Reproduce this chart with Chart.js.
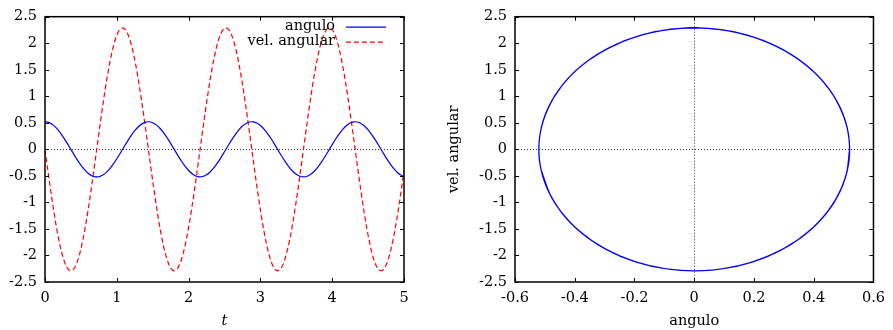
<!DOCTYPE html>
<html>
<head>
<meta charset="utf-8">
<script src="https://cdn.jsdelivr.net/npm/chart.js@4.4.1/dist/chart.umd.min.js"></script>
<style>
  body { margin: 0; background: #fff; width: 893px; height: 330px; overflow: hidden; }
  .panel { position: absolute; top: 0; height: 330px; }
  #p1 { left: 0; width: 446px; }
  #p2 { left: 446px; width: 447px; }
</style>
</head>
<body>
<div class="panel" id="p1"><canvas id="graficaTiempo"></canvas></div>
<div class="panel" id="p2"><canvas id="graficaFase"></canvas></div>

<script>
/* Datos (paso de 0.05 en t) */
const tiempo = [
  0, 0.05, 0.1, 0.15, 0.2, 0.25, 0.3, 0.35, 0.4, 0.45,
  0.5, 0.55, 0.6, 0.65, 0.7, 0.75, 0.8, 0.85, 0.9, 0.95,
  1, 1.05, 1.1, 1.15, 1.2, 1.25, 1.3, 1.35, 1.4, 1.45,
  1.5, 1.55, 1.6, 1.65, 1.7, 1.75, 1.8, 1.85, 1.9, 1.95,
  2, 2.05, 2.1, 2.15, 2.2, 2.25, 2.3, 2.35, 2.4, 2.45,
  2.5, 2.55, 2.6, 2.65, 2.7, 2.75, 2.8, 2.85, 2.9, 2.95,
  3, 3.05, 3.1, 3.15, 3.2, 3.25, 3.3, 3.35, 3.4, 3.45,
  3.5, 3.55, 3.6, 3.65, 3.7, 3.75, 3.8, 3.85, 3.9, 3.95,
  4, 4.05, 4.1, 4.15, 4.2, 4.25, 4.3, 4.35, 4.4, 4.45,
  4.5, 4.55, 4.6, 4.65, 4.7, 4.75, 4.8, 4.85, 4.9, 4.95,
  5
];
const angulo = [
  0.520, 0.508, 0.471, 0.413, 0.334, 0.240, 0.135, 0.023, -0.090, -0.199,
  -0.298, -0.383, -0.450, -0.496, -0.518, -0.516, -0.489, -0.439, -0.368, -0.279,
  -0.178, -0.068, 0.045, 0.156, 0.260, 0.351, 0.426, 0.480, 0.512, 0.520,
  0.502, 0.461, 0.398, 0.317, 0.220, 0.113, 0, -0.113, -0.220, -0.317,
  -0.398, -0.461, -0.502, -0.520, -0.512, -0.480, -0.426, -0.351, -0.260, -0.156,
  -0.045, 0.068, 0.178, 0.279, 0.368, 0.439, 0.489, 0.516, 0.518, 0.496,
  0.450, 0.383, 0.298, 0.199, 0.090, -0.023, -0.135, -0.240, -0.334, -0.413,
  -0.471, -0.508, -0.520, -0.508, -0.471, -0.413, -0.334, -0.240, -0.135, -0.023,
  0.090, 0.199, 0.298, 0.383, 0.450, 0.496, 0.518, 0.516, 0.489, 0.439,
  0.368, 0.279, 0.178, 0.068, -0.045, -0.156, -0.260, -0.351, -0.426, -0.480,
  -0.512
];
const velAngular = [
  0, -0.496, -0.968, -1.394, -1.754, -2.031, -2.212, -2.288, -2.255, -2.116,
  -1.876, -1.547, -1.145, -0.689, -0.200, 0.299, 0.783, 1.230, 1.619, 1.931,
  2.152, 2.270, 2.281, 2.184, 1.983, 1.688, 1.313, 0.876, 0.398, -0.100,
  -0.593, -1.057, -1.472, -1.817, -2.075, -2.236, -2.290, -2.236, -2.075, -1.817,
  -1.472, -1.057, -0.593, -0.100, 0.398, 0.876, 1.313, 1.688, 1.983, 2.184,
  2.281, 2.270, 2.152, 1.931, 1.619, 1.230, 0.783, 0.299, -0.200, -0.689,
  -1.145, -1.547, -1.876, -2.116, -2.255, -2.288, -2.212, -2.031, -1.754, -1.394,
  -0.968, -0.496, 0, 0.496, 0.968, 1.394, 1.754, 2.031, 2.212, 2.288,
  2.255, 2.116, 1.876, 1.547, 1.145, 0.689, 0.200, -0.299, -0.783, -1.230,
  -1.619, -1.931, -2.152, -2.270, -2.281, -2.184, -1.983, -1.688, -1.313, -0.876,
  -0.398
];

/* Marcas de los ejes */
const ticksT = [0, 1, 2, 3, 4, 5];
const ticksY = [-2.5, -2, -1.5, -1, -0.5, 0, 0.5, 1, 1.5, 2, 2.5];
const ticksAngulo = [-0.6, -0.4, -0.2, 0, 0.2, 0.4, 0.6];

const fuente = "'DejaVu Serif', serif";
const tamFuente = 14.5;

/* Marco, marcas hacia dentro y lineas de cero (estilo gnuplot) */
const marcoPlugin = {
  id: "marco",
  beforeDatasetsDraw(chart, args, opts) {
    const ctx = chart.ctx;
    const a = chart.chartArea;
    const x = chart.scales.x, y = chart.scales.y;
    ctx.save();
    ctx.strokeStyle = "#333";
    ctx.lineWidth = 1;
    ctx.setLineDash([1, 2]);
    ctx.beginPath();
    const y0 = Math.round(y.getPixelForValue(0)) + 0.5;
    ctx.moveTo(a.left, y0);
    ctx.lineTo(a.right, y0);
    if (opts.ceroX) {
      const x0 = Math.round(x.getPixelForValue(0)) + 0.5;
      ctx.moveTo(x0, a.top);
      ctx.lineTo(x0, a.bottom);
    }
    ctx.stroke();
    ctx.restore();
  },
  afterDatasetsDraw(chart) {
    const ctx = chart.ctx;
    const a = chart.chartArea;
    const x = chart.scales.x, y = chart.scales.y;
    const largo = 4;
    ctx.save();
    ctx.strokeStyle = "#000";
    ctx.lineWidth = 1;
    ctx.beginPath();
    x.ticks.forEach(t => {
      const px = Math.round(x.getPixelForValue(t.value)) + 0.5;
      ctx.moveTo(px, a.bottom);
      ctx.lineTo(px, a.bottom - largo);
      ctx.moveTo(px, a.top);
      ctx.lineTo(px, a.top + largo);
    });
    y.ticks.forEach(t => {
      const py = Math.round(y.getPixelForValue(t.value)) + 0.5;
      ctx.moveTo(a.left, py);
      ctx.lineTo(a.left + largo, py);
      ctx.moveTo(a.right, py);
      ctx.lineTo(a.right - largo, py);
    });
    ctx.stroke();
    ctx.lineWidth = 1.5;
    ctx.strokeRect(a.left, a.top, a.right - a.left, a.bottom - a.top);
    ctx.restore();
  }
};

/* Leyenda dentro del area, arriba a la derecha */
const leyendaPlugin = {
  id: "leyenda",
  afterDraw(chart, args, opts) {
    if (!opts.mostrar) return;
    const ctx = chart.ctx;
    const a = chart.chartArea;
    ctx.save();
    ctx.font = tamFuente + "px " + fuente;
    ctx.textAlign = "right";
    ctx.textBaseline = "middle";
    chart.data.datasets.forEach((ds, i) => {
      const fila = a.top + 10 + i * 15;
      ctx.fillStyle = "#000";
      ctx.fillText(ds.label, a.right - 69, fila);
      ctx.strokeStyle = ds.borderColor;
      ctx.lineWidth = 1.2;
      ctx.setLineDash(ds.borderDash || []);
      ctx.beginPath();
      ctx.moveTo(a.right - 58, fila + 0.5);
      ctx.lineTo(a.right - 18, fila + 0.5);
      ctx.stroke();
    });
    ctx.restore();
  }
};

function ejeLineal(min, max, marcas, ancho, alto, titulo) {
  return {
    type: "linear",
    min: min,
    max: max,
    grid: { display: false, drawTicks: false },
    border: { display: false },
    afterBuildTicks: (scale) => {
      scale.ticks = marcas.map(v => ({ value: v }));
    },
    afterFit: (scale) => {
      if (ancho) scale.width = ancho;
      if (alto) scale.height = alto;
    },
    ticks: {
      color: "#000",
      font: { family: fuente, size: tamFuente },
      padding: ancho ? 8 : 8,
      autoSkip: false,
      maxRotation: 0,
      callback: (v) => String(v)
    },
    title: titulo
  };
}

Chart.defaults.animation = false;

const ctx1 = document.getElementById("graficaTiempo").getContext("2d");
const graficaTiempo = new Chart(ctx1, {
  type: "line",
  data: {
    datasets: [
      {
        label: "angulo",
        data: tiempo.map((t, i) => ({ x: t, y: angulo[i] })),
        borderColor: "#0000ff",
        borderWidth: 1.2,
        pointRadius: 0,
        tension: 0.33,
        fill: false
      },
      {
        label: "vel. angular",
        data: tiempo.map((t, i) => ({ x: t, y: velAngular[i] })),
        borderColor: "#ff0000",
        borderWidth: 1.2,
        borderDash: [5, 3],
        pointRadius: 0,
        tension: 0.33,
        fill: false
      }
    ]
  },
  options: {
    responsive: true,
    maintainAspectRatio: false,
    devicePixelRatio: 1,
    layout: { padding: { left: 0, top: 14, right: 42, bottom: 0 } },
    scales: {
      x: ejeLineal(0, 5, ticksT, 0, 48, {
        display: true, text: "t", color: "#000",
        font: { family: fuente, size: tamFuente, style: "italic" },
        padding: { top: 0, bottom: 0 }
      }),
      y: ejeLineal(-2.5, 2.5, ticksY, 45, 0, { display: false })
    },
    plugins: {
      legend: { display: false },
      tooltip: { enabled: false },
      marco: { ceroX: false },
      leyenda: { mostrar: true }
    }
  },
  plugins: [marcoPlugin, leyendaPlugin]
});

const ctx2 = document.getElementById("graficaFase").getContext("2d");
const graficaFase = new Chart(ctx2, {
  type: "scatter",
  data: {
    datasets: [
      {
        label: "fase",
        data: angulo.map((a, i) => ({ x: a, y: velAngular[i] })),
        showLine: true,
        borderColor: "#0000ff",
        borderWidth: 1.2,
        pointRadius: 0,
        tension: 0.33,
        fill: false
      }
    ]
  },
  options: {
    responsive: true,
    maintainAspectRatio: false,
    devicePixelRatio: 1,
    layout: { padding: { left: 0, top: 14, right: 19, bottom: 0 } },
    scales: {
      x: ejeLineal(-0.6, 0.6, ticksAngulo, 0, 48, {
        display: true, text: "angulo", color: "#000",
        font: { family: fuente, size: tamFuente },
        padding: { top: 0, bottom: 0 }
      }),
      y: ejeLineal(-2.5, 2.5, ticksY, 69, 0, {
        display: true, text: "vel. angular", color: "#000",
        font: { family: fuente, size: tamFuente },
        padding: { top: 0, bottom: 0 }
      })
    },
    plugins: {
      legend: { display: false },
      tooltip: { enabled: false },
      marco: { ceroX: true },
      leyenda: { mostrar: false }
    }
  },
  plugins: [marcoPlugin, leyendaPlugin]
});
</script>
</body>
</html>
